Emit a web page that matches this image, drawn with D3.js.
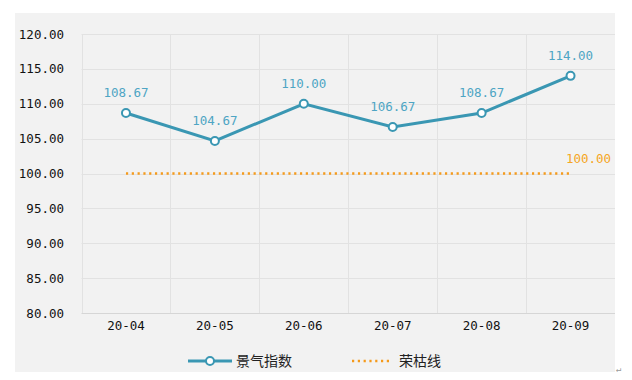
<!DOCTYPE html>
<html><head><meta charset="utf-8">
<script src="https://cdn.jsdelivr.net/npm/d3@7"></script>
<style>body{margin:0;background:#fff;}svg{display:block;}</style>
</head><body>
<svg id="c" width="632" height="380"></svg>
<script>
const categories = ["20-04","20-05","20-06","20-07","20-08","20-09"];
const indexValues = [108.67,104.67,110.00,106.67,108.67,114.00];
const lineValues = [100,100,100,100,100,100];
const yTicks = [80,85,90,95,100,105,110,115,120];
const seriesNames = ["景气指数","荣枯线"];

const svg = d3.select("#c");
const mono = "'DejaVu Sans Mono', monospace";
const cjk = "'Noto Sans CJK SC', sans-serif";
svg.append("rect").attr("x",15).attr("y",13).attr("width",600).attr("height",359).attr("fill","#f2f2f2");

const x = d3.scaleBand().domain(categories).range([81.5,615]);
const y = d3.scaleLinear().domain([80,120]).range([313,34]);
const cx = d => x(d)+x.bandwidth()/2;

// horizontal grid
svg.append("g").selectAll("line").data(yTicks).join("line")
  .attr("x1",81.5).attr("x2",615).attr("y1",d=>Math.round(y(d))+0.5).attr("y2",d=>Math.round(y(d))+0.5)
  .attr("stroke",d=>d===80?"#d6d6d6":"#e2e2e2").attr("stroke-width",1);
// vertical grid
const bounds = categories.map(c=>x(c)).concat([615]);
svg.append("g").selectAll("line").data(bounds.slice(0,6)).join("line")
  .attr("x1",d=>Math.round(d)+0.5).attr("x2",d=>Math.round(d)+0.5).attr("y1",34).attr("y2",313)
  .attr("stroke","#e2e2e2");

// y axis labels
const yAxis = d3.axisLeft(y).tickValues(yTicks).tickFormat(d3.format(".2f")).tickSize(0).tickPadding(0);
const ga = svg.append("g").attr("transform","translate(64,0)").call(yAxis);
ga.select(".domain").remove();
ga.selectAll("text").attr("font-family",mono).attr("font-size","12.5px").attr("fill","#111");

const xAxis = d3.axisBottom(x).tickSize(0).tickPadding(0);
const gx = svg.append("g").attr("transform","translate(0,321)").call(xAxis);
gx.select(".domain").remove();
gx.selectAll("text").attr("font-family",mono).attr("font-size","12.5px").attr("fill","#111").attr("dy","0.71em");

// 100 dotted line
const line = d3.line().x((d,i)=>cx(categories[i])).y(d=>y(d));
svg.append("path").datum(lineValues).attr("d",line).attr("fill","none")
  .attr("stroke","#f59a1b").attr("stroke-width",2.5).attr("stroke-dasharray","2.2 3.6");
svg.append("text").attr("x",cx(categories[5])+18).attr("y",y(100)-11).attr("text-anchor","middle")
  .attr("font-family",mono).attr("font-size","12.5px").attr("fill","#f5a623").text(d3.format(".2f")(lineValues[5]));

// main line
svg.append("path").datum(indexValues).attr("d",line).attr("fill","none")
  .attr("stroke","#3a97b3").attr("stroke-width",3);
svg.append("g").selectAll("circle").data(indexValues).join("circle")
  .attr("cx",(d,i)=>cx(categories[i])).attr("cy",d=>y(d)).attr("r",4)
  .attr("fill","#fff").attr("stroke","#3a97b3").attr("stroke-width",2);
svg.append("g").selectAll("text").data(indexValues).join("text")
  .attr("x",(d,i)=>cx(categories[i])).attr("y",d=>y(d)-16).attr("text-anchor","middle")
  .attr("font-family",mono).attr("font-size","12.5px").attr("fill","#4ea5c4").text(d=>d3.format(".2f")(d));

// legend
const lg = svg.append("g");
lg.append("line").attr("x1",188).attr("x2",232).attr("y1",361).attr("y2",361).attr("stroke","#3a97b3").attr("stroke-width",3);
lg.append("circle").attr("cx",210).attr("cy",361).attr("r",4).attr("fill","#fff").attr("stroke","#3a97b3").attr("stroke-width",2);
lg.append("text").attr("x",236).attr("y",366).attr("font-family",cjk).attr("font-size","14px").attr("fill","#222").text(seriesNames[0]);
lg.append("line").attr("x1",352).attr("x2",390).attr("y1",361).attr("y2",361).attr("stroke","#f59a1b").attr("stroke-width",2.5).attr("stroke-dasharray","2.2 3.6");
lg.append("text").attr("x",399).attr("y",366).attr("font-family",cjk).attr("font-size","14px").attr("fill","#222").text(seriesNames[1]);

svg.append("text").attr("x",616).attr("y",372).attr("font-family",mono).attr("font-size","9px").attr("fill","#999").text("↵");
</script>
</body></html>
